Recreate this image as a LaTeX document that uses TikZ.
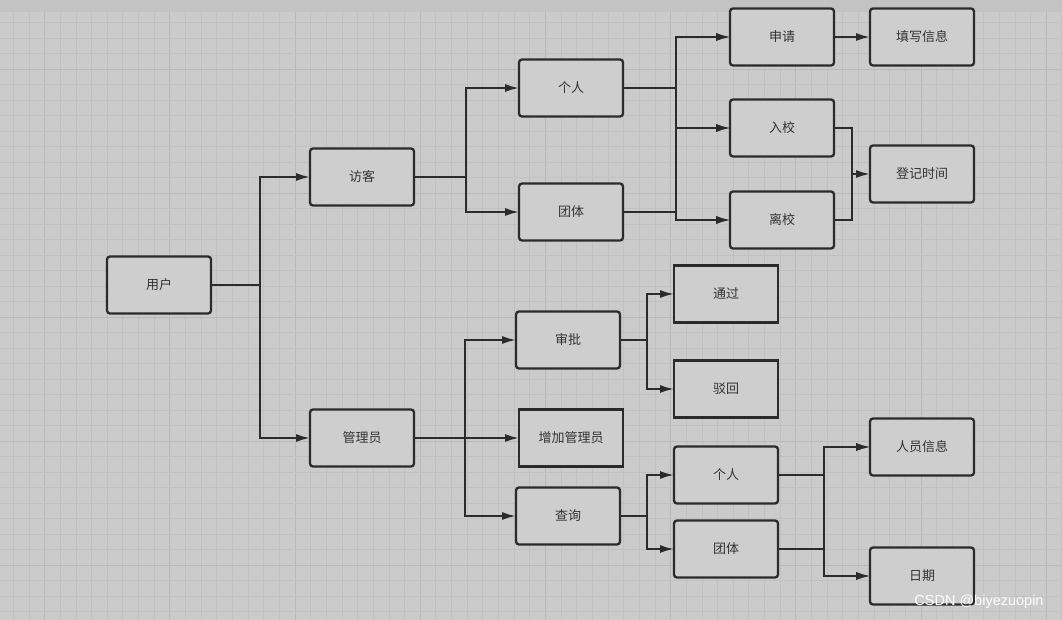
\documentclass[tikz,border=0pt]{standalone}
\usepackage{fontspec}
\usetikzlibrary{positioning,arrows.meta,calc}
\newfontfamily\cjk{Noto Sans CJK SC}
\definecolor{PaperGray}{HTML}{CBCBCB}
\definecolor{StripGray}{HTML}{C3C3C3}
\definecolor{GridGray}{HTML}{C1C1C1}
\definecolor{MajorGray}{HTML}{B9B9B9}
\definecolor{BoxGray}{HTML}{CECECE}
\definecolor{InkDark}{HTML}{2B2B2B}
\definecolor{TextDark}{HTML}{333333}

\begin{document}
\begin{tikzpicture}[x=1pt, y=-1pt,
  box/.style    = {draw=InkDark, fill=BoxGray, rounded corners=3pt, line width=2.3pt,
                   minimum width=104pt, minimum height=57pt, inner sep=0pt, outer sep=0pt,
                   text=TextDark, font=\cjk\fontsize{13}{15}\selectfont},
  sqbox/.style  = {box, rounded corners=0pt},
  line/.style   = {InkDark, line width=2pt},
  arr/.style    = {line, -{Latex[length=14pt,width=8pt]}},
  gridline/.style = {GridGray, line width=0.8pt},
  majorline/.style = {MajorGray, line width=1pt},
  stampnote/.style = {font=\fontspec{Liberation Sans}\fontsize{14.5}{16}\selectfont, text=white}
]
  \useasboundingbox (0,0) rectangle (1062,620);
  \fill[PaperGray] (0,0) rectangle (1062,620);
  \foreach \i in {0,...,67} {
    \pgfmathtruncatemacro{\m}{mod(\i,8)}
    \ifnum\m=2 \draw[majorline] ({13.3+15.65*\i},12) -- ({13.3+15.65*\i},620);
    \else \draw[gridline] ({13.3+15.65*\i},12) -- ({13.3+15.65*\i},620); \fi
  }
  \foreach \j in {0,...,38} {
    \pgfmathtruncatemacro{\m}{mod(\j,8)}
    \ifnum\m=3 \draw[majorline] (0,{22.6+15.5*\j}) -- (1062,{22.6+15.5*\j});
    \else \draw[gridline] (0,{22.6+15.5*\j}) -- (1062,{22.6+15.5*\j}); \fi
  }
  \fill[StripGray] (0,0) rectangle (1062,12);

  \node[box] (user)     at (159,285) {用户};
  \node[box] (visitor)  at (362,177) {访客};
  \node[box] (admin)    at (362,438) {管理员};
  \node[box] (person)   at (571,88)  {个人};
  \node[box] (group)    at (571,212) {团体};
  \node[box] (apply)    at (782,37)  {申请};
  \node[box] (fillinfo) at (922,37)  {填写信息};
  \node[box] (enter)    at (782,128) {入校};
  \node[box] (leave)    at (782,220) {离校};
  \node[box] (regtime)  at (922,174) {登记时间};
  \node[box] (approve)  at (568,340) {审批};
  \node[sqbox] (addadmin) at (571,438) {增加管理员};
  \node[box] (query)    at (568,516) {查询};
  \node[sqbox] (pass)   at (726,294) {通过};
  \node[sqbox] (reject) at (726,389) {驳回};
  \node[box] (qperson)  at (726,475) {个人};
  \node[box] (qgroup)   at (726,549) {团体};
  \node[box] (info)     at (922,447) {人员信息};
  \node[box] (date)     at (922,576) {日期};

  \coordinate (timebus) at ([xshift=-18pt]regtime.west);

  \foreach \t in {visitor,admin}
    \draw[arr] (user.east) -- ++(49,0) |- (\t.west);
  \foreach \t in {person,group}
    \draw[arr] (visitor.east) -- ++(52,0) |- (\t.west);
  \foreach \s in {person,group}
    \foreach \t in {apply,enter,leave}
      \draw[arr] (\s.east) -- ++(53,0) |- (\t.west);
  \draw[arr] (apply) -- (fillinfo);
  \draw[line] (enter.east) -| (timebus);
  \draw[line] (leave.east) -| (timebus);
  \draw[arr] (timebus) -- (regtime.west);
  \foreach \t in {approve,addadmin,query}
    \draw[arr] (admin.east) -- ++(51,0) |- (\t.west);
  \foreach \t in {pass,reject}
    \draw[arr] (approve.east) -- ++(27,0) |- (\t.west);
  \foreach \t in {qperson,qgroup}
    \draw[arr] (query.east) -- ++(27,0) |- (\t.west);
  \foreach \s in {qperson,qgroup}
    \foreach \t in {info,date}
      \draw[arr] (\s.east) -- ++(46,0) |- (\t.west);

  \node[stampnote] (stamp) at (979,602) {CSDN @biyezuopin};
\end{tikzpicture}
\end{document}
